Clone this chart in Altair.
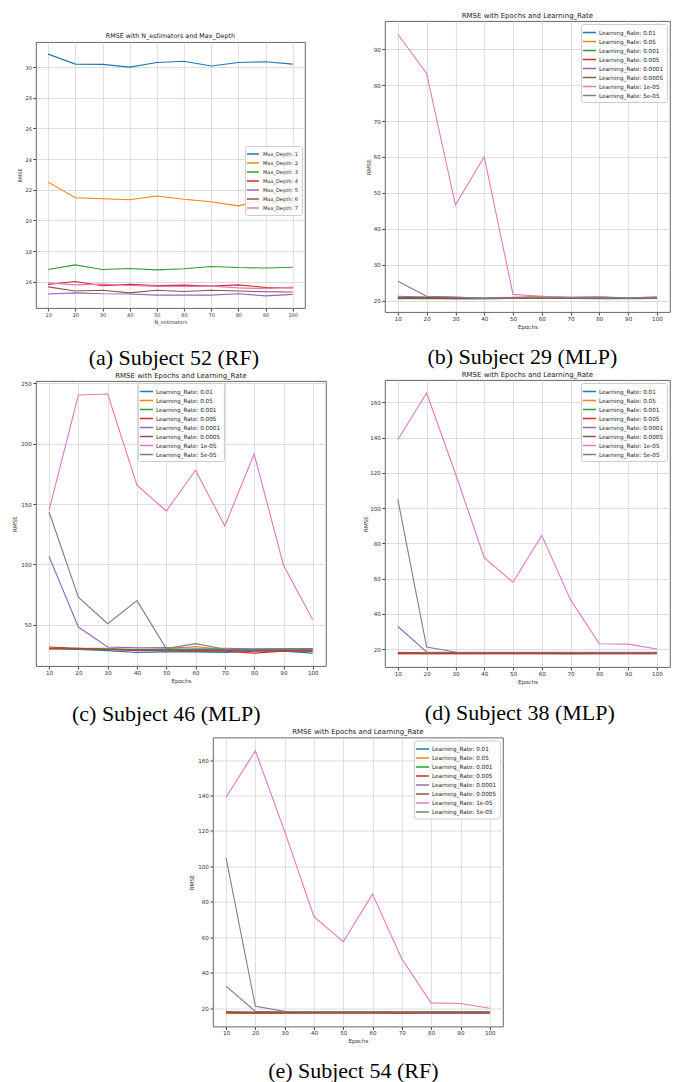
import altair as alt
import pandas as pd

FONT = "DejaVu Sans"
SERIF = "Liberation Serif"

x_vals = [10, 20, 30, 40, 50, 60, 70, 80, 90, 100]
colors = ["#1f77b4", "#ff7f0e", "#2ca02c", "#d62728", "#9467bd", "#8c564b", "#e377c2", "#7f7f7f"]

depth_labels = ["Max_Depth: 1", "Max_Depth: 2", "Max_Depth: 3", "Max_Depth: 4",
                "Max_Depth: 5", "Max_Depth: 6", "Max_Depth: 7"]
lr_labels = ["Learning_Rate: 0.01", "Learning_Rate: 0.05", "Learning_Rate: 0.001",
             "Learning_Rate: 0.005", "Learning_Rate: 0.0001", "Learning_Rate: 0.0005",
             "Learning_Rate: 1e-05", "Learning_Rate: 5e-05"]

# (a) Subject 52 (RF)
a_depth1 = [30.85, 30.2, 30.18, 30.0, 30.3, 30.38, 30.08, 30.3, 30.35, 30.2]
a_depth2 = [22.5, 21.48, 21.42, 21.35, 21.6, 21.38, 21.22, 20.95, 21.35, 21.15]
a_depth3 = [16.8, 17.1, 16.8, 16.87, 16.78, 16.85, 17.0, 16.93, 16.9, 16.95]
a_depth4 = [15.83, 16.02, 15.74, 15.83, 15.76, 15.78, 15.72, 15.8, 15.63, 15.6]
a_depth5 = [15.2, 15.28, 15.22, 15.2, 15.13, 15.13, 15.13, 15.22, 15.08, 15.18]
a_depth6 = [15.67, 15.4, 15.45, 15.28, 15.45, 15.37, 15.45, 15.4, 15.35, 15.33]
a_depth7 = [15.93, 15.8, 15.85, 15.76, 15.7, 15.7, 15.72, 15.6, 15.55, 15.65]

# (b) Subject 29 (MLP)
b_lr_01 = [20.6, 20.6, 20.5, 20.5, 20.6, 20.6, 20.6, 20.5, 20.5, 20.6]
b_lr_05 = [20.9, 20.9, 20.7, 20.6, 20.9, 21.2, 20.8, 20.8, 20.7, 20.7]
b_lr_001 = [20.5, 20.5, 20.5, 20.5, 20.6, 20.6, 20.6, 20.6, 20.6, 20.6]
b_lr_005 = [20.7, 20.7, 20.6, 20.6, 20.6, 20.8, 20.8, 21.0, 20.6, 20.9]
b_lr_0001 = [21.2, 21.0, 20.9, 20.6, 20.8, 20.9, 20.9, 20.8, 20.7, 20.8]
b_lr_0005 = [20.8, 20.8, 20.7, 20.6, 20.7, 20.7, 20.7, 20.7, 20.7, 20.7]
b_lr_1e5 = [94.2, 83.3, 46.6, 60.1, 21.7, 21.2, 20.9, 21.1, 20.7, 21.1]
b_lr_5e5 = [25.4, 21.2, 21.0, 20.6, 20.7, 20.8, 20.8, 20.8, 20.8, 20.8]

# (c) Subject 46 (MLP)
c_lr_01 = [30.0, 29.5, 28.5, 27.0, 27.5, 27.5, 27.0, 28.0, 28.0, 26.5]
c_lr_05 = [29.5, 30.5, 30.5, 29.0, 30.0, 32.0, 29.0, 28.5, 28.5, 28.0]
c_lr_001 = [30.5, 30.0, 30.0, 29.5, 29.5, 29.5, 29.5, 29.5, 29.5, 29.5]
c_lr_005 = [31.5, 30.5, 29.5, 28.5, 28.5, 28.0, 28.0, 26.5, 28.0, 28.0]
c_lr_0001 = [106.6, 48.1, 31.6, 30.8, 31.0, 30.5, 30.5, 30.0, 30.0, 29.7]
c_lr_0005 = [30.5, 30.0, 29.5, 29.0, 28.5, 28.5, 28.5, 28.5, 28.5, 28.5]
c_lr_1e5 = [145.0, 240.4, 241.2, 165.7, 144.2, 178.0, 131.9, 191.5, 99.5, 54.1]
c_lr_5e5 = [143.4, 72.8, 50.8, 70.0, 30.2, 34.3, 29.7, 29.7, 30.2, 30.2]

# (d) Subject 38 (MLP)
d_lr_01 = [17.6, 17.5, 17.5, 17.5, 17.5, 17.5, 17.4, 17.5, 17.5, 17.5]
d_lr_05 = [17.3, 17.3, 17.3, 17.3, 17.3, 17.3, 17.3, 17.3, 17.3, 17.3]
d_lr_001 = [17.7, 17.6, 17.6, 17.6, 17.6, 17.6, 17.6, 17.6, 17.6, 17.6]
d_lr_005 = [17.4, 17.3, 17.4, 17.4, 17.4, 17.4, 17.3, 17.4, 17.4, 17.4]
d_lr_0001 = [32.8, 18.3, 18.0, 18.0, 18.0, 18.0, 18.0, 17.9, 17.9, 17.9]
d_lr_0005 = [18.2, 17.9, 17.9, 17.9, 17.9, 17.9, 17.9, 17.9, 17.9, 17.9]
d_lr_1e5 = [138.9, 165.3, 119.6, 71.9, 57.9, 84.5, 47.9, 23.0, 22.8, 20.0]
d_lr_5e5 = [104.9, 21.1, 18.3, 18.2, 18.2, 18.2, 18.2, 18.2, 18.2, 18.2]

# (e) Subject 54 (RF)
e_lr_01 = [17.6, 17.5, 17.5, 17.5, 17.5, 17.5, 17.4, 17.5, 17.5, 17.5]
e_lr_05 = [17.3, 17.3, 17.3, 17.3, 17.3, 17.3, 17.3, 17.3, 17.3, 17.3]
e_lr_001 = [17.7, 17.6, 17.6, 17.6, 17.6, 17.6, 17.6, 17.6, 17.6, 17.6]
e_lr_005 = [17.4, 17.3, 17.4, 17.4, 17.4, 17.4, 17.3, 17.4, 17.4, 17.4]
e_lr_0001 = [32.6, 18.3, 18.0, 18.0, 18.0, 18.0, 18.0, 17.9, 17.9, 17.9]
e_lr_0005 = [18.2, 17.9, 17.9, 17.9, 17.9, 17.9, 17.9, 17.9, 17.9, 17.9]
e_lr_1e5 = [139.0, 165.2, 119.8, 71.7, 57.6, 84.4, 47.8, 23.1, 22.8, 20.1]
e_lr_5e5 = [104.8, 21.2, 18.3, 18.2, 18.2, 18.2, 18.2, 18.2, 18.2, 18.2]


def make_df(labels, series):
    rows = []
    for lab, vals in zip(labels, series):
        for xv, yv in zip(x_vals, vals):
            rows.append({"x": xv, "y": yv, "s": lab})
    return pd.DataFrame(rows)


def make_legend(font_size, sym_size, label_offset=4, **pos):
    return alt.Legend(
        title=None, symbolType="M-1.5,0H1.5", symbolSize=sym_size, symbolStrokeWidth=1.5,
        labelFontSize=font_size, labelFont=FONT, labelColor="#222",
        fillColor="rgba(255,255,255,0.85)", strokeColor="#cccccc", cornerRadius=2,
        padding=3, rowPadding=0, labelOffset=label_offset, labelLimit=300, **pos)


def panel(labels, series, title, xlabel, ydom, yticks, w, h, legend, ytp,
          fs=5.6, tfs=7):
    df = make_df(labels, series)
    return alt.Chart(df).mark_line(strokeWidth=1.1).encode(
        x=alt.X("x:Q", scale=alt.Scale(domain=[5.5, 104.5], nice=False, zero=False),
                axis=alt.Axis(values=x_vals, title=xlabel, labelFlush=False,
                              labelOverlap=False, titlePadding=2,
                              labelFontSize=fs, titleFontSize=fs)),
        y=alt.Y("y:Q", scale=alt.Scale(domain=ydom, nice=False, zero=False),
                axis=alt.Axis(values=yticks, title="RMSE", titlePadding=ytp,
                              labelFlush=False, labelOverlap=False,
                              labelFontSize=fs, titleFontSize=fs)),
        color=alt.Color("s:N", scale=alt.Scale(domain=labels, range=colors[:len(labels)]),
                        legend=legend),
    ).properties(width=w, height=h,
                 title=alt.Title(title, frame="group", anchor="middle", fontSize=tfs))


def indep(c):
    return c.resolve_scale(color="independent").resolve_legend(color="independent")


def cell(ch, caption, offset, dx):
    return indep(alt.vconcat(ch, spacing=0, title=alt.Title(
        caption, orient="bottom", anchor="middle", font=SERIF, fontSize=22,
        fontWeight="normal", color="black", offset=offset, dx=dx)))


def spacer(w, h):
    return alt.Chart(pd.DataFrame({"v": [0]})).mark_point(opacity=0, size=1).encode(
        x=alt.value(0), y=alt.value(0)
    ).properties(width=w, height=h, view=alt.ViewBackground(strokeOpacity=0))


lr_title = "RMSE with Epochs and Learning_Rate"

pA = panel(depth_labels, [a_depth1, a_depth2, a_depth3, a_depth4, a_depth5, a_depth6, a_depth7],
           "RMSE with N_estimators and Max_Depth", "N_estimators",
           [14.29, 31.64], [16, 18, 20, 22, 24, 26, 28, 30], 269, 266,
           make_legend(5.1, 64, 5, orient="none", legendX=209, legendY=104), 2.3,
           fs=5.0, tfs=6.4)
pB = panel(lr_labels, [b_lr_01, b_lr_05, b_lr_001, b_lr_005, b_lr_0001, b_lr_0005, b_lr_1e5, b_lr_5e5],
           lr_title, "Epochs", [16.8, 97.9], [20, 30, 40, 50, 60, 70, 80, 90], 285, 291,
           make_legend(5.7, 77, orient="top-right", offset=3), 1.5)
pC = panel(lr_labels, [c_lr_01, c_lr_05, c_lr_001, c_lr_005, c_lr_0001, c_lr_0005, c_lr_1e5, c_lr_5e5],
           lr_title, "Epochs", [15.8, 252.0], [50, 100, 150, 200, 250], 290, 285,
           make_legend(5.7, 77, orient="none", legendX=102, legendY=2), 3)
pD = panel(lr_labels, [d_lr_01, d_lr_05, d_lr_001, d_lr_005, d_lr_0001, d_lr_0005, d_lr_1e5, d_lr_5e5],
           lr_title, "Epochs", [9.8, 172.7], [20, 40, 60, 80, 100, 120, 140, 160], 285, 287,
           make_legend(5.7, 77, orient="top-right", offset=3), 1)
pE = panel(lr_labels, [e_lr_01, e_lr_05, e_lr_001, e_lr_005, e_lr_0001, e_lr_0005, e_lr_1e5, e_lr_5e5],
           lr_title, "Epochs", [9.8, 172.7], [20, 40, 60, 80, 100, 120, 140, 160], 290, 289,
           make_legend(5.7, 77, orient="top-right", offset=3), 3)

cellA = cell(pA, "(a) Subject 52 (RF)", 23, 12.5)
cellB = cell(pB, "(b) Subject 29 (MLP)", 16.5, 4)
cellC = cell(pC, "(c) Subject 46 (MLP)", 19.8, -3)
cellD = cell(pD, "(d) Subject 38 (MLP)", 17.8, 3)
cellE = cell(pE, "(e) Subject 54 (RF)", 15.9, 7)

colL = indep(alt.vconcat(spacer(1, 8.3), cellA, cellC, spacing=2))
colR = indep(alt.vconcat(cellB, cellD, spacing=2))
row12 = indep(alt.hconcat(colL, colR, spacing=36))
rowE = indep(alt.hconcat(spacer(153, 1), cellE, spacing=0))

chart = indep(alt.vconcat(row12, rowE, spacing=2.5)).properties(
    padding={"left": 3.9, "top": 3, "right": 0, "bottom": 0},
    background="white",
).configure_axis(
    labelFont=FONT, titleFont=FONT, labelFontSize=5.6, titleFontSize=5.6,
    labelColor="#333", titleColor="#333", titleFontWeight="normal",
    gridColor="#d4d4d4", gridWidth=0.8, tickColor="#444", tickSize=3,
    labelPadding=1.5, domain=False,
).configure_view(
    stroke="#555", strokeWidth=0.9,
).configure_title(
    font=FONT, fontSize=7, fontWeight="normal", color="#222", offset=2.5,
)

chart.save("out.html", embed_options={"renderer": "svg", "actions": False})
